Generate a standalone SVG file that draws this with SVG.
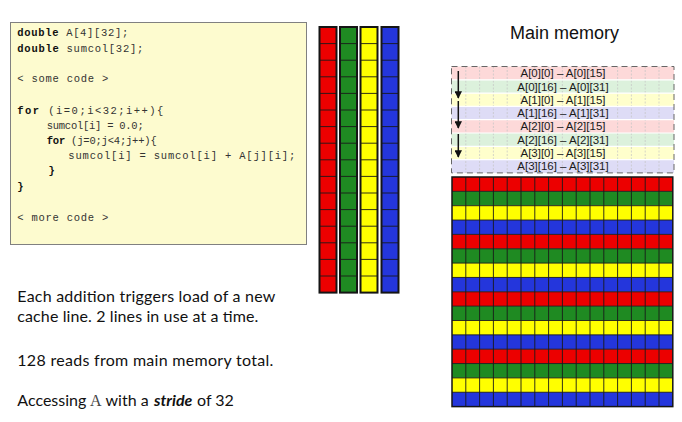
<svg xmlns="http://www.w3.org/2000/svg" width="682" height="422" viewBox="0 0 682 422">
<defs>
<style>
.code{font-family:"Liberation Mono","Courier New",monospace;font-size:10.5px;fill:#333}
.kw{font-weight:bold;fill:#111}
.body{font-family:Lato,"Open Sans",sans-serif;font-size:16px;fill:#111}
.lbl{font-family:"Liberation Sans",Arial,sans-serif;font-size:11.5px;fill:#1a1a1a;text-anchor:middle}
.cell{stroke:#1a1a1a;stroke-width:0.9;fill:none}
.faint{stroke:#c4c4c4;stroke-width:0.7;fill:none}
.r{fill:#ec0000}.g{fill:#1f8a22}.y{fill:#ffff00}.b{fill:#2436dc}
.lr{fill:#fdd9d9}.lg{fill:#dcf1dc}.ly{fill:#ffffcc}.lb{fill:#dedcf6}
.arrow{stroke:#111;stroke-width:1.5;fill:none;marker-end:url(#ah)}
</style>
<marker id="ah" viewBox="0 0 10 10" refX="9" refY="5" markerWidth="5" markerHeight="5" orient="auto" markerUnits="strokeWidth">
<path d="M0,0 L10,5 L0,10 z" fill="#111"/>
</marker>
</defs>
<rect width="682" height="422" fill="#ffffff"/>

<g id="code-box">
<rect x="10.5" y="22.5" width="296" height="222" fill="#fdfbcf" stroke="#808080" stroke-width="1"/>
<text class="code" x="17.3" y="36" textLength="111" lengthAdjust="spacing"><tspan class="kw">double</tspan> A[4][32];</text>
<text class="code" x="17.3" y="52" textLength="126" lengthAdjust="spacing"><tspan class="kw">double</tspan> sumcol[32];</text>
<text class="code" x="17.3" y="82" textLength="91" lengthAdjust="spacing">&lt; some code &gt;</text>
<text class="code" x="17.3" y="113.5" textLength="146" lengthAdjust="spacing"><tspan class="kw">for</tspan> (i=0;i&lt;32;i++){</text>
<text class="code" x="46.7" y="128.5" textLength="97" lengthAdjust="spacing">sumcol[i] = 0.0;</text>
<text class="code" x="46.7" y="143.5" textLength="110" lengthAdjust="spacing"><tspan class="kw">for</tspan> (j=0;j&lt;4;j++){</text>
<text class="code" x="68.3" y="159" textLength="227" lengthAdjust="spacing">sumcol[i] = sumcol[i] + A[j][i];</text>
<text class="code kw" x="48.5" y="174">}</text>
<text class="code kw" x="17.3" y="189.5">}</text>
<text class="code" x="17.3" y="221" textLength="91" lengthAdjust="spacing">&lt; more code &gt;</text>
</g>

<g id="cache">
<rect class="r" x="319.5" y="27" width="17" height="265.6"/>
<rect class="g" x="340" y="27" width="17" height="265.6"/>
<rect class="y" x="360.5" y="27" width="17" height="265.6"/>
<rect class="b" x="381.5" y="27" width="17" height="265.6"/>
<path class="cell" d="M319.5,43.6h17M319.5,60.2h17M319.5,76.8h17M319.5,93.4h17M319.5,110h17M319.5,126.6h17M319.5,143.2h17M319.5,159.8h17M319.5,176.4h17M319.5,193h17M319.5,209.6h17M319.5,226.2h17M319.5,242.8h17M319.5,259.4h17M319.5,276h17
M340,43.6h17M340,60.2h17M340,76.8h17M340,93.4h17M340,110h17M340,126.6h17M340,143.2h17M340,159.8h17M340,176.4h17M340,193h17M340,209.6h17M340,226.2h17M340,242.8h17M340,259.4h17M340,276h17
M360.5,43.6h17M360.5,60.2h17M360.5,76.8h17M360.5,93.4h17M360.5,110h17M360.5,126.6h17M360.5,143.2h17M360.5,159.8h17M360.5,176.4h17M360.5,193h17M360.5,209.6h17M360.5,226.2h17M360.5,242.8h17M360.5,259.4h17M360.5,276h17
M381.5,43.6h17M381.5,60.2h17M381.5,76.8h17M381.5,93.4h17M381.5,110h17M381.5,126.6h17M381.5,143.2h17M381.5,159.8h17M381.5,176.4h17M381.5,193h17M381.5,209.6h17M381.5,226.2h17M381.5,242.8h17M381.5,259.4h17M381.5,276h17"/>
<g fill="none" stroke="#151515" stroke-width="2">
<rect x="319.5" y="27" width="17" height="265.6"/>
<rect x="340" y="27" width="17" height="265.6"/>
<rect x="360.5" y="27" width="17" height="265.6"/>
<rect x="381.5" y="27" width="17" height="265.6"/>
</g>
</g>

<g id="main-memory-title">
<text x="564.5" y="39" font-family="'Liberation Sans',Arial,sans-serif" font-size="18" fill="#111" text-anchor="middle">Main memory</text>
</g>

<g id="memory-lines">
<rect class="lr" x="451.5" y="66.5" width="222.5" height="13.3"/>
<rect class="lg" x="451.5" y="79.8" width="222.5" height="13.3"/>
<rect class="ly" x="451.5" y="93.1" width="222.5" height="13.3"/>
<rect class="lb" x="451.5" y="106.4" width="222.5" height="13.3"/>
<rect class="lr" x="451.5" y="119.7" width="222.5" height="13.3"/>
<rect class="lg" x="451.5" y="133" width="222.5" height="13.3"/>
<rect class="ly" x="451.5" y="146.3" width="222.5" height="13.3"/>
<rect class="lb" x="451.5" y="159.6" width="222.5" height="13.3"/>
<path class="faint" stroke-dasharray="2 1.5" d="M465.8,66.5V172.9M479.6,66.5V172.9M493.4,66.5V172.9M507.2,66.5V172.9M521,66.5V172.9M534.8,66.5V172.9M548.6,66.5V172.9M562.4,66.5V172.9M576.2,66.5V172.9M590,66.5V172.9M603.8,66.5V172.9M617.6,66.5V172.9M631.4,66.5V172.9M645.2,66.5V172.9M659,66.5V172.9"/>
<path stroke="#ffffff" stroke-width="1.2" d="M451.5,79.8h222.5M451.5,93.1h222.5M451.5,106.4h222.5M451.5,119.7h222.5M451.5,133h222.5M451.5,146.3h222.5M451.5,159.6h222.5"/>
<rect x="451.5" y="66.5" width="222.5" height="106.4" fill="none" stroke="#666" stroke-width="1" stroke-dasharray="6 4"/>
<text class="lbl" x="563" y="77.2">A[0][0] – A[0][15]</text>
<text class="lbl" x="563" y="90.5">A[0][16] – A[0][31]</text>
<text class="lbl" x="563" y="103.8">A[1][0] – A[1][15]</text>
<text class="lbl" x="563" y="117.1">A[1][16] – A[1][31]</text>
<text class="lbl" x="563" y="130.4">A[2][0] – A[2][15]</text>
<text class="lbl" x="563" y="143.7">A[2][16] – A[2][31]</text>
<text class="lbl" x="563" y="157">A[3][0] – A[3][15]</text>
<text class="lbl" x="563" y="170.3">A[3][16] – A[3][31]</text>
</g>

<g id="memory-grid">
<rect class="r" x="452" y="177" width="220.8" height="14.35"/>
<rect class="g" x="452" y="191.35" width="220.8" height="14.35"/>
<rect class="y" x="452" y="205.7" width="220.8" height="14.35"/>
<rect class="b" x="452" y="220.05" width="220.8" height="14.35"/>
<rect class="r" x="452" y="234.4" width="220.8" height="14.35"/>
<rect class="g" x="452" y="248.75" width="220.8" height="14.35"/>
<rect class="y" x="452" y="263.1" width="220.8" height="14.35"/>
<rect class="b" x="452" y="277.45" width="220.8" height="14.35"/>
<rect class="r" x="452" y="291.8" width="220.8" height="14.35"/>
<rect class="g" x="452" y="306.15" width="220.8" height="14.35"/>
<rect class="y" x="452" y="320.5" width="220.8" height="14.35"/>
<rect class="b" x="452" y="334.85" width="220.8" height="14.35"/>
<rect class="r" x="452" y="349.2" width="220.8" height="14.35"/>
<rect class="g" x="452" y="363.55" width="220.8" height="14.35"/>
<rect class="y" x="452" y="377.9" width="220.8" height="14.35"/>
<rect class="b" x="452" y="392.25" width="220.8" height="14.35"/>
<path class="cell" d="M465.8,177V406.6M479.6,177V406.6M493.4,177V406.6M507.2,177V406.6M521,177V406.6M534.8,177V406.6M548.6,177V406.6M562.4,177V406.6M576.2,177V406.6M590,177V406.6M603.8,177V406.6M617.6,177V406.6M631.4,177V406.6M645.2,177V406.6M659,177V406.6
M452,191.35h220.8M452,205.7h220.8M452,220.05h220.8M452,234.4h220.8M452,248.75h220.8M452,263.1h220.8M452,277.45h220.8M452,291.8h220.8M452,306.15h220.8M452,320.5h220.8M452,334.85h220.8M452,349.2h220.8M452,363.55h220.8M452,377.9h220.8M452,392.25h220.8"/>
<rect x="452" y="177" width="220.8" height="229.6" fill="none" stroke="#151515" stroke-width="1.5"/>
</g>

<g id="connectors">
<path class="arrow" d="M458.3,71V98"/>
<path class="arrow" d="M458.3,101V128"/>
<path class="arrow" d="M458.3,134V157"/>
</g>

<g id="notes">
<text class="body" x="17.3" y="301.5" textLength="258" lengthAdjust="spacing">Each addition triggers load of a new</text>
<text class="body" x="17.3" y="321.5" textLength="241" lengthAdjust="spacing">cache line. 2 lines in use at a time.</text>
<text class="body" x="17.3" y="365.5" textLength="256" lengthAdjust="spacing">128 reads from main memory total.</text>
<text class="body" x="17.3" y="405.5">Accessing</text>
<text x="90" y="405.5" font-family="'Liberation Serif','Times New Roman',serif" font-size="16" fill="#444">A</text>
<text class="body" x="105.5" y="405.5">with a</text>
<text class="body" x="154" y="405.5" font-weight="bold" font-style="italic">stride</text>
<text class="body" x="197" y="405.5">of 32</text>
</g>
</svg>
